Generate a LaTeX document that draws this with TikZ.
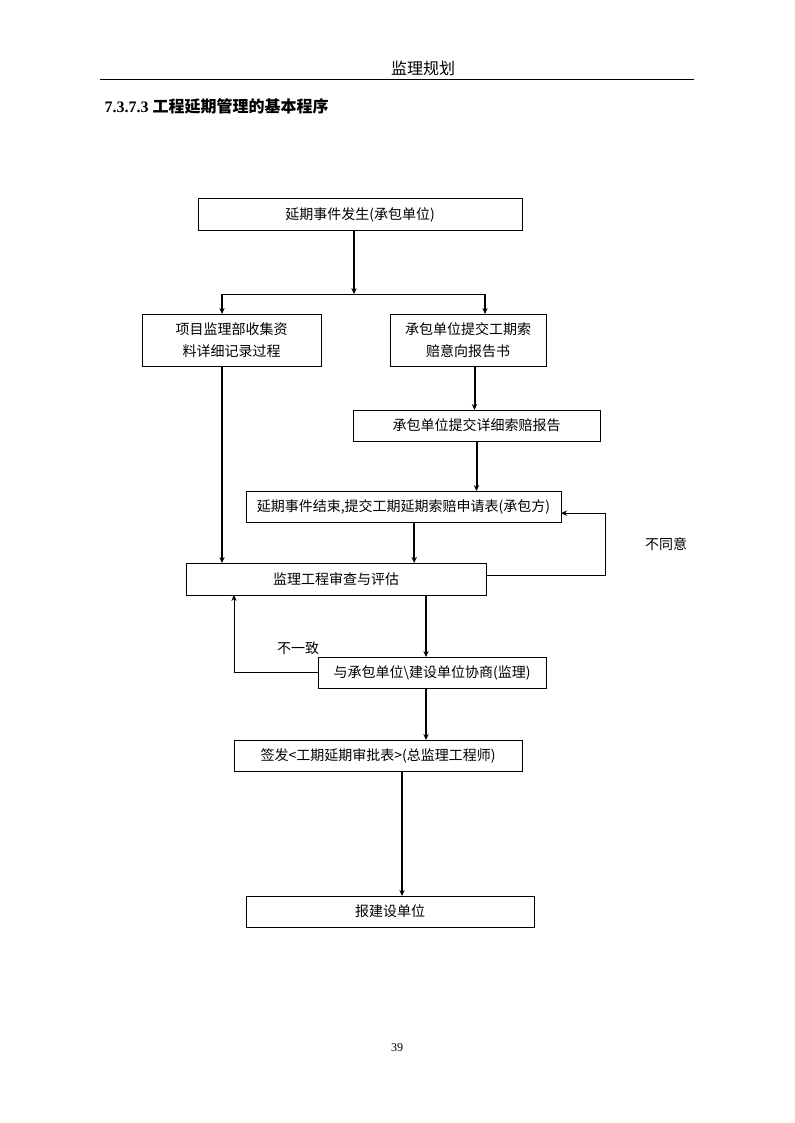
\documentclass[tikz,border=0pt]{standalone}
\usepackage{fontspec}
\setmainfont{Liberation Serif}
\newfontfamily\cjk{Noto Sans CJK SC}
\usepackage{tikz}
\usetikzlibrary{arrows.meta}

\begin{document}
\begin{tikzpicture}[x=0.75pt, y=-0.75pt,
  font=\cjk\fontsize{10.5}{16.5}\selectfont,
  box/.style={draw, line width=0.75pt, inner sep=0pt, outer sep=0pt, align=center},
  flow/.style={-{Stealth[length=4.5pt,width=4pt]}, line width=1.5pt},
  back/.style={-{Stealth[length=4.5pt,width=4pt]}, line width=0.75pt}]

\useasboundingbox (0,0) rectangle (794,1123);

\node (HEAD) at (423,68) {\fontsize{12}{14}\selectfont 监理规划};
\draw [line width=0.75pt] (100,80) -- (694,80);
\node [anchor=west, font=\bfseries\fontsize{12}{14}\selectfont] (TITLE) at (100,106) {7.3.7.3 {\cjk 工程延期管理的基本程序}};

\node [box, minimum width=243pt, minimum height=24pt] (OCCUR) at (360,215) {延期事件发生(承包单位)};
\node [box, minimum width=134.25pt, minimum height=39pt] (COLLECT) at (231.5,340) {项目监理部收集资\\ 料详细记录过程};
\node [box, minimum width=117pt, minimum height=39pt] (INTENT) at (468,340) {承包单位提交工期索\\ 赔意向报告书};
\node [box, minimum width=185.25pt, minimum height=23.25pt] (REPORT) at (476.5,425.5) {承包单位提交详细索赔报告};
\node [box, minimum width=236.25pt, minimum height=23.25pt] (APPLY) at (403.5,506.5) {延期事件结束,提交工期延期索赔申请表(承包方)};
\node [box, minimum width=225pt, minimum height=24pt] (REVIEW) at (336,579) {监理工程审查与评估};
\node [box, minimum width=171pt, minimum height=23.25pt] (NEGOT) at (432,672.5) {与承包单位\textbackslash 建设单位协商(监理)};
\node [box, minimum width=216pt, minimum height=23.25pt] (SIGN) at (378,755.5) {签发<工期延期审批表>(总监理工程师)};
\node [box, minimum width=216pt, minimum height=23.25pt] (SUBMIT) at (390,911.5) {报建设单位};

\coordinate (SPLIT) at (354,294);
\coordinate (LBR) at (222,294);
\coordinate (RBR) at (485,294);
\draw [flow] ([xshift=-4.5pt]OCCUR.south) -- (SPLIT);
\draw [line width=0.75pt] (LBR) -- (RBR);
\draw [flow] (LBR) -- (LBR |- COLLECT.north);
\draw [flow] (RBR) -- (RBR |- INTENT.north);
\draw [flow] (COLLECT.south -| LBR) -- (LBR |- REVIEW.north);
\draw [flow] ([xshift=-1.5pt]REPORT.north |- INTENT.south) -- ([xshift=-1.5pt]REPORT.north);
\draw [flow] (REPORT.south) -- (REPORT.south |- APPLY.north);
\draw [flow] ([xshift=8pt]APPLY.south) -- ([xshift=8pt]APPLY.south |- REVIEW.north);

\coordinate (DISAG) at (605,544);
\draw [back] ([yshift=3pt]REVIEW.east) -- ([yshift=3pt]REVIEW.east -| DISAG) -- ([yshift=-5pt]APPLY.east -| DISAG) -- ([yshift=-5pt]APPLY.east);
\node (NOTAG) at (666,544) {不同意};

\draw [flow] ([xshift=-4.5pt]NEGOT.north |- REVIEW.south) -- ([xshift=-4.5pt]NEGOT.north);
\coordinate (LOOP) at (234,640);
\draw [back] (NEGOT.west) -- (NEGOT.west -| LOOP) -- (LOOP |- REVIEW.south);
\node (NOTSAME) at (298,648) {不一致};

\draw [flow] ([xshift=-4.5pt]NEGOT.south) -- ([xshift=-4.5pt]NEGOT.south |- SIGN.north);
\draw [flow] ([xshift=9pt]SUBMIT.north |- SIGN.south) -- ([xshift=9pt]SUBMIT.north);

\node [font=\fontsize{9}{11}\selectfont] (PAGE) at (397,1048) {39};
\end{tikzpicture}
\end{document}
